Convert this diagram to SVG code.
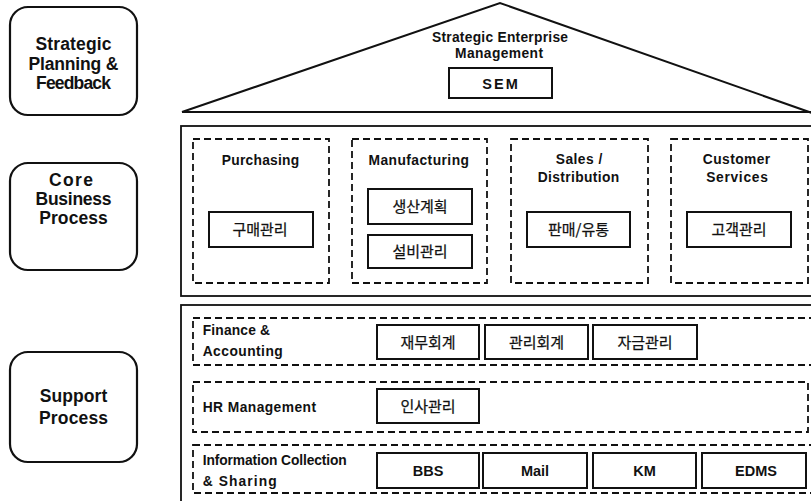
<svg xmlns="http://www.w3.org/2000/svg" width="811" height="501" viewBox="0 0 811 501">
<style>
.bg{fill:#fff}
.side{fill:#fff;stroke:#111;stroke-width:2.2}
.outer{fill:none;stroke:#111;stroke-width:1.8}
.dash{fill:none;stroke:#111;stroke-width:1.8;stroke-dasharray:7 4}
.box{fill:#fff;stroke:#111;stroke-width:2}
.en{font-family:"Liberation Sans",Arial,sans-serif;font-weight:bold;font-size:13.8px;fill:#111}
.big{font-family:"Liberation Sans",Arial,sans-serif;font-weight:bold;font-size:17.5px;fill:#111;text-anchor:middle}
.ko{font-family:"Noto Sans CJK KR","Noto Sans",sans-serif;font-size:15px;fill:#111;stroke:#111;stroke-width:0.25;text-anchor:middle}
.bt{font-family:"Liberation Sans",Arial,sans-serif;font-weight:bold;font-size:14.5px;fill:#111;text-anchor:middle}
.c{text-anchor:middle}
</style>
<rect class="bg" x="0" y="0" width="811" height="501"/>

<g id="strategic-planning">
<rect class="side" x="10" y="7" width="127" height="108" rx="18"/>
<text class="big" x="73.5" y="50" textLength="76" lengthAdjust="spacing">Strategic</text>
<text class="big" x="73.5" y="69.5" textLength="90" lengthAdjust="spacing">Planning &amp;</text>
<text class="big" x="73.5" y="89" textLength="75" lengthAdjust="spacing">Feedback</text>
</g>
<g id="core-business">
<rect class="side" x="10" y="163" width="127" height="107" rx="18"/>
<text class="big" x="71" y="186" textLength="44" lengthAdjust="spacing">Core</text>
<text class="big" x="73.5" y="205" textLength="76" lengthAdjust="spacing">Business</text>
<text class="big" x="73.5" y="224" textLength="68.5" lengthAdjust="spacing">Process</text>
</g>
<g id="support-process">
<rect class="side" x="10" y="352" width="127" height="110" rx="18"/>
<text class="big" x="73.5" y="402" textLength="67.5" lengthAdjust="spacing">Support</text>
<text class="big" x="73.5" y="424" textLength="69" lengthAdjust="spacing">Process</text>
</g>

<g id="sem-roof">
<path d="M182 112 L500 3 L815 114" fill="none" stroke="#111" stroke-width="2"/>
<line x1="182" y1="112" x2="811" y2="112" stroke="#111" stroke-width="2"/>
<text class="en c" x="500" y="42" textLength="136" lengthAdjust="spacing">Strategic Enterprise</text>
<text class="en c" x="499" y="58" textLength="88" lengthAdjust="spacing">Management</text>
<rect class="box" x="449" y="68" width="103" height="30"/>
<text class="bt" x="500" y="88.5" textLength="35.5" lengthAdjust="spacing">SEM</text>
</g>

<g id="core-frame">
<rect class="outer" x="181" y="126" width="650" height="170"/>
</g>
<g id="purchasing">
<rect class="dash" x="193" y="139" width="136" height="144"/>
<text class="en c" x="260.5" y="164.5" textLength="77.5" lengthAdjust="spacing">Purchasing</text>
<rect class="box" x="209" y="212" width="104" height="35"/>
<text class="ko" x="260" y="235">구매관리</text>
</g>
<g id="manufacturing">
<rect class="dash" x="352" y="139" width="135" height="144"/>
<text class="en c" x="418.7" y="164.5" textLength="100.5" lengthAdjust="spacing">Manufacturing</text>
<rect class="box" x="368" y="189" width="104" height="35"/>
<text class="ko" x="420" y="212">생산계획</text>
<rect class="box" x="368" y="235" width="104" height="33"/>
<text class="ko" x="420" y="257">설비관리</text>
</g>
<g id="sales">
<rect class="dash" x="511" y="139" width="137" height="144"/>
<text class="en c" x="579" y="163.5" textLength="46.5" lengthAdjust="spacing">Sales /</text>
<text class="en c" x="578.5" y="181.5" textLength="81.5" lengthAdjust="spacing">Distribution</text>
<rect class="box" x="527" y="212" width="103" height="35"/>
<text class="ko" x="578.5" y="235">판매/유통</text>
</g>
<g id="customer">
<rect class="dash" x="671" y="139" width="137" height="144"/>
<text class="en c" x="736.5" y="163.5" textLength="67.3" lengthAdjust="spacing">Customer</text>
<text class="en c" x="737" y="181.5" textLength="61.7" lengthAdjust="spacing">Services</text>
<rect class="box" x="687" y="212" width="104" height="35"/>
<text class="ko" x="739" y="235">고객관리</text>
</g>

<g id="support-frame">
<rect class="outer" x="181" y="305" width="650" height="210"/>
</g>
<g id="finance">
<rect class="dash" x="193" y="318" width="640" height="47"/>
<text class="en" x="202.7" y="334.5" textLength="67.3" lengthAdjust="spacing">Finance &amp;</text>
<text class="en" x="202.7" y="355.5" textLength="80" lengthAdjust="spacing">Accounting</text>
<rect class="box" x="377" y="325" width="102" height="34"/>
<text class="ko" x="428" y="347.5">재무회계</text>
<rect class="box" x="485" y="325" width="103" height="34"/>
<text class="ko" x="536.5" y="347.5">관리회계</text>
<rect class="box" x="593" y="325" width="104" height="34"/>
<text class="ko" x="645" y="347.5">자금관리</text>
</g>
<g id="hr">
<rect class="dash" x="193" y="382" width="615" height="50"/>
<text class="en" x="202.7" y="411.5" textLength="113.3" lengthAdjust="spacing">HR Management</text>
<rect class="box" x="377" y="389" width="102" height="34"/>
<text class="ko" x="428" y="411.5">인사관리</text>
</g>
<g id="info">
<rect class="dash" x="193" y="445" width="640" height="48"/>
<text class="en" x="202.7" y="464.5" textLength="144" lengthAdjust="spacing">Information Collection</text>
<text class="en" x="202.7" y="486" textLength="74" lengthAdjust="spacing">&amp; Sharing</text>
<rect class="box" x="377" y="453" width="102" height="35"/>
<text class="bt" x="428" y="476">BBS</text>
<rect class="box" x="483" y="453" width="104" height="35"/>
<text class="bt" x="535" y="476">Mail</text>
<rect class="box" x="593" y="453" width="103" height="35"/>
<text class="bt" x="644.5" y="476">KM</text>
<rect class="box" x="702" y="453" width="104" height="35"/>
<text class="bt" x="756" y="476">EDMS</text>
</g>
<g id="connectors"></g>
</svg>
